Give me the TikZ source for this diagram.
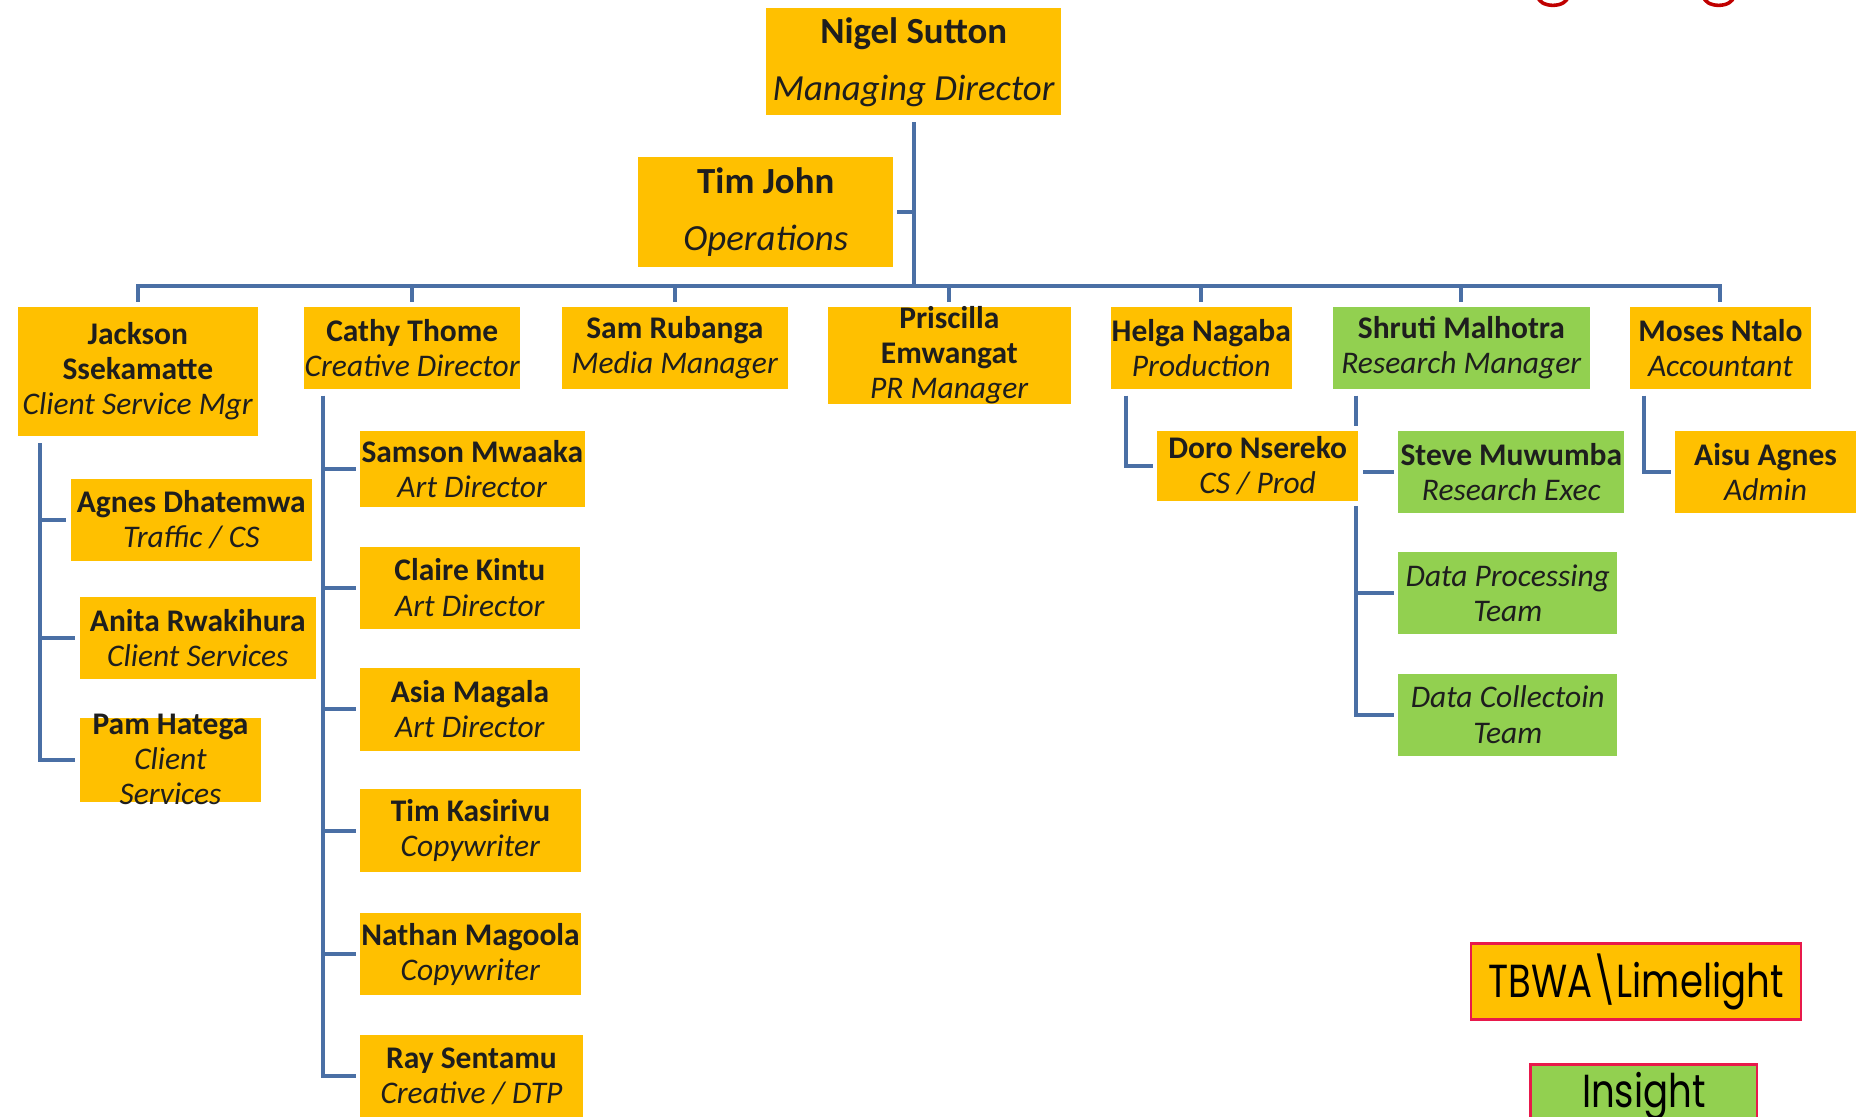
\documentclass[tikz,border=0pt]{standalone}
\usepackage{fontspec}
\usepackage{graphicx}
\setmainfont{Carlito}
\newfontfamily\legendfont{Poppins}
\usetikzlibrary{backgrounds}
\definecolor{orng}{HTML}{FFC000}
\definecolor{grn}{HTML}{92D050}
\definecolor{lnk}{HTML}{4A6FA5}
\definecolor{txt}{HTML}{1E1E1E}
\definecolor{crim}{HTML}{E8194B}
\definecolor{ttl}{HTML}{C00000}
\newcommand\nm[1]{\textbf{#1}}
\newcommand\rl[1]{\textit{#1}}
\tikzset{
  bx/.style n args={4}{inner sep=0pt, outer sep=0pt,
    minimum width={#3pt-#1pt}, minimum height={#4pt-#2pt},
    at={({(#1+#3)/2},{(#2+#4)/2})}},
  bt/.style={inner sep=0pt, align=center, text=txt, font=\fontsize{26.5}{29.5}\selectfont},
  big/.style={font=\fontsize{31}{48}\selectfont},
  conn/.style={draw=lnk, line width=3.4pt},
  legend/.style={anchor=north west, inner sep=0pt, draw=crim, line width=2pt, text=black,
    font=\legendfont\fontsize{39}{39}\selectfont},
}
\begin{document}
\begin{tikzpicture}[x=1pt, y=-1pt]
\useasboundingbox (0,0) rectangle (1568,940);

% top level
\node[bx={645}{7}{893}{97}, fill=orng, label={[bt,big]center:{\nm{Nigel Sutton}\\\rl{Managing Director}}}] (nigel) {};
\node[bx={537}{132}{752}{225}, fill=orng, label={[bt,big]center:{\nm{Tim John}\\\rl{Operations}}}] (tim) {};

% second level
\node[bx={15}{258.5}{217}{367}, fill=orng, label={[bt]center:{\nm{Jackson}\\\nm{Ssekamatte}\\\rl{Client Service Mgr}}}] (jackson) {};
\node[bx={256}{258.5}{438}{327}, fill=orng, label={[bt]center:{\nm{Cathy Thome}\\\rl{Creative Director}}}] (cathy) {};
\node[bx={473}{258.5}{663}{327}, fill=orng, label={[bt]center:{\nm{Sam Rubanga}\\\rl{Media Manager}}}] (sam) {};
\node[bx={697}{258.5}{901}{340}, fill=orng, label={[bt]center:{\nm{Priscilla}\\\nm{Emwangat}\\\rl{PR Manager}}}] (pris) {};
\node[bx={935}{258.5}{1087}{327}, fill=orng, label={[bt]center:{\nm{Helga Nagaba}\\\rl{Production}}}] (helga) {};
\node[bx={1122}{258.5}{1338}{327}, fill=grn, label={[bt]center:{\nm{Shruti Malhotra}\\\rl{Research Manager}}}] (shruti) {};
\node[bx={1372}{258.5}{1524}{327}, fill=orng, label={[bt]center:{\nm{Moses Ntalo}\\\rl{Accountant}}}] (moses) {};

% Jackson's team
\node[bx={59.5}{403}{262.5}{472}, fill=orng, label={[bt]center:{\nm{Agnes Dhatemwa}\\\rl{Traffic / CS}}}] (agnes) {};
\node[bx={67}{502.7}{266}{571.5}, fill=orng, label={[bt]center:{\nm{Anita Rwakihura}\\\rl{Client Services}}}] (anita) {};
\node[bx={67}{604}{220}{675}, fill=orng, label={[bt]center:{\nm{Pam Hatega}\\\rl{Client}\\\rl{Services}}}] (pam) {};

% Cathy's team
\node[bx={303}{363}{492}{426.6}, fill=orng, label={[bt]center:{\nm{Samson Mwaaka}\\\rl{Art Director}}}] (samson) {};
\node[bx={303}{460}{488}{529}, fill=orng, label={[bt]center:{\nm{Claire Kintu}\\\rl{Art Director}}}] (claire) {};
\node[bx={303}{562}{488}{632}, fill=orng, label={[bt]center:{\nm{Asia Magala}\\\rl{Art Director}}}] (asia) {};
\node[bx={303}{664}{489}{734}, fill=orng, label={[bt]center:{\nm{Tim Kasirivu}\\\rl{Copywriter}}}] (timk) {};
\node[bx={303}{768.5}{489}{837.5}, fill=orng, label={[bt]center:{\nm{Nathan Magoola}\\\rl{Copywriter}}}] (nathan) {};
\node[bx={303}{871}{490.6}{941}, fill=orng, label={[bt]center:{\nm{Ray Sentamu}\\\rl{Creative / DTP}}}] (ray) {};

% Helga / Shruti / Moses teams
\node[bx={974}{362.6}{1143}{421.7}, fill=orng, preaction={draw=white, line width=8pt},
  label={[bt]center:{\nm{Doro Nsereko}\\\rl{CS / Prod}}}] (doro) {};
\node[bx={1177}{362.6}{1367}{431.6}, fill=grn, label={[bt]center:{\nm{Steve Muwumba}\\\rl{Research Exec}}}] (steve) {};
\node[bx={1177}{465}{1361}{533.6}, fill=grn, label={[bt]center:{\rl{Data Processing}\\\rl{Team}}}] (dproc) {};
\node[bx={1177}{567}{1361}{636}, fill=grn, label={[bt]center:{\rl{Data Collectoin}\\\rl{Team}}}] (dcoll) {};
\node[bx={1410}{362.6}{1562}{432}, fill=orng, label={[bt]center:{\nm{Aisu Agnes}\\\rl{Admin}}}] (aisu) {};

% legend
\node[legend, fill=orng, minimum width=278pt, text height=45.5pt, text depth=18.5pt] (tbwa) at (1237,793)
  {\scalebox{0.8}[1]{TBWA\textbackslash Limelight}};
\node[legend, fill=grn, minimum width=191pt, text height=36.5pt, text depth=16pt] (insight) at (1287,895)
  {\scalebox{0.8}[1]{Insight}};

% cut-off red title descenders
\draw[ttl, line width=3pt] (1294.5,-3) arc[start angle=180, end angle=0, x radius=12.5, y radius=7.5];
\draw[ttl, line width=3pt] (1434,-3) arc[start angle=180, end angle=0, x radius=12.5, y radius=7.5];

\begin{scope}[on background layer]
\fill[white] (0,0) rectangle (1568,940);
\coordinate (bus) at (769,241);
\coordinate (jv) at (34,0);
\coordinate (cv) at (272,0);
\coordinate (hv) at (948,0);
\coordinate (sv) at (1141,0);
\coordinate (mv) at (1384,0);
% trunk and bus
\draw[conn, shorten <=6pt] (nigel.south) -- (nigel.south |- bus);
\draw[conn, shorten <=3pt] (tim.east) -- (tim.east -| nigel.south);
\draw[conn, shorten <=4.5pt, shorten >=4.5pt] (jackson.north) -- (jackson.north |- bus) -- (moses.north |- bus) -- (moses.north);
\foreach \n in {cathy,sam,pris,helga,shruti}
  \draw[conn, shorten >=4.5pt] (\n.north |- bus) -- (\n.north);
% Jackson
\draw[conn, shorten <=6pt, shorten >=4pt] (jackson.south -| jv) -- (jv |- pam.west) -- (pam.west);
\foreach \n in {agnes,anita}
  \draw[conn, shorten >=4pt] (jv |- \n.west) -- (\n.west);
% Cathy
\draw[conn, shorten <=6pt, shorten >=3pt] (cathy.south -| cv) -- (cv |- ray.west) -- (ray.west);
\foreach \n in {samson,claire,asia,timk,nathan}
  \draw[conn, shorten >=3pt] (cv |- \n.west) -- (\n.west);
% Helga
\draw[conn, shorten <=6pt, shorten >=4pt] (helga.south -| hv) -- (hv |- doro.west) -- (doro.west);
% Shruti
\draw[conn, shorten <=6pt, shorten >=4pt] (shruti.south -| sv) -- (sv |- dcoll.west) -- (dcoll.west);
\foreach \n in {steve,dproc}
  \draw[conn, shorten >=4pt] (sv |- \n.west) -- (\n.west);
% Moses
\draw[conn, shorten <=6pt, shorten >=4pt] (moses.south -| mv) -- (mv |- aisu.west) -- (aisu.west);
\end{scope}
\end{tikzpicture}
\end{document}
